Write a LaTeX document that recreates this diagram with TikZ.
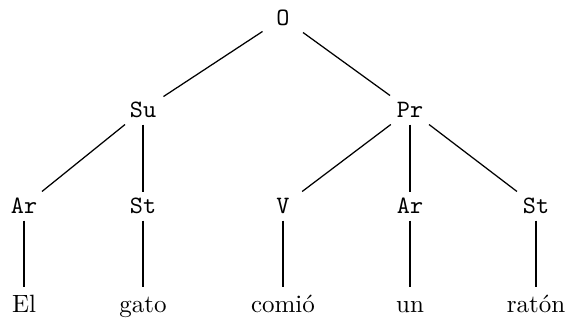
\documentclass[tikz,border=0pt]{standalone}
\begin{document}
\begin{tikzpicture}[x=0.4pt,y=-0.4pt,
  inner/.style={rectangle,inner sep=0pt,minimum width=16pt,minimum height=11.2pt,text height=5.6pt,text depth=0pt,font=\ttfamily},
  leaf/.style={rectangle,inner sep=0pt,minimum width=12pt,minimum height=13.6pt,text height=6.8pt,text depth=0pt},
  br/.style={line width=0.5pt}]
\useasboundingbox (0,0) rectangle (566,320);
\node[inner] (O) at (283,18) {O};
\node[inner] (Su) at (143,110) {Su};
\node[inner] (Pr) at (410,110) {Pr};
\node[inner] (Ar1) at (24,206) {Ar};
\node[inner] (St1) at (143,206) {St};
\node[inner] (V) at (283,206) {V};
\node[inner] (Ar2) at (410,206) {Ar};
\node[inner] (St2) at (536,206) {St};
\node[leaf] (El) at (24,304) {El};
\node[leaf] (gato) at (143,304) {gato};
\node[leaf] (comio) at (283,304) {comió};
\node[leaf] (un) at (410,304) {un};
\node[leaf] (raton) at (536,304) {ratón};
\draw[br] (O) -- (Su);
\draw[br] (O) -- (Pr);
\draw[br] (Su) -- (Ar1);
\draw[br] (Su) -- (St1);
\draw[br] (Pr) -- (V);
\draw[br] (Pr) -- (Ar2);
\draw[br] (Pr) -- (St2);
\draw[br] (Ar1) -- (El);
\draw[br] (St1) -- (gato);
\draw[br] (V) -- (comio);
\draw[br] (Ar2) -- (un);
\draw[br] (St2) -- (raton);
\end{tikzpicture}
\end{document}
